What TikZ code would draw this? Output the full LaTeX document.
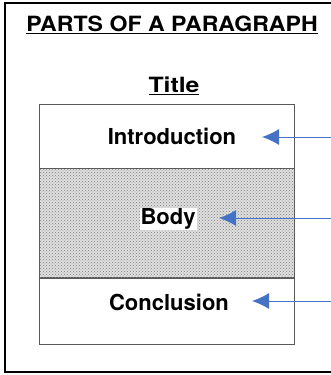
\documentclass[tikz,border=0pt]{standalone}
\usepackage{fontspec}
\setmainfont{TeX Gyre Heros}
\newfontfamily\headfont[FakeStretch=1.1]{TeX Gyre Heros}
\newfontfamily\titlefont[FakeStretch=1.18]{TeX Gyre Heros}
\usetikzlibrary{positioning,patterns,arrows.meta}

\begin{document}
\begin{tikzpicture}[x=1pt,y=-1pt]
    \tikzstyle{part}=[draw=gray!70!black, line width=0.8pt, minimum width=255pt, inner sep=0pt]
    \tikzstyle{label}=[font=\bfseries\fontsize{22}{26}\selectfont, inner sep=1pt]
    \tikzstyle{pointer}=[draw={rgb,255:red,68;green,114;blue,196}, line width=1pt, -{Latex[length=17pt,width=16pt]}]
    \useasboundingbox (0,0) rectangle (331,375);
    \clip (0,0) rectangle (331,375);
    \draw [line width=2pt] (5,3) rectangle (345,372);

    \node (Head) at (172,25) {\headfont\bfseries\fontsize{21}{24}\selectfont\underline{PARTS OF A PARAGRAPH}};
    \node (Title) at (174,86) {\titlefont\bfseries\fontsize{21}{24}\selectfont\underline{Title}};

    \node (Intro) [part, minimum height=64pt] at (166.5,136) {};
    \node (Body) [part, minimum height=109pt, below=0pt of Intro, fill=gray!25, postaction={pattern=crosshatch dots, pattern color=gray}] {};
    \node (Concl) [part, minimum height=66pt, below=0pt of Body] {};

    \node (IntroText) at (172,136) [label] {Introduction};
    \node (BodyText) at (168,219) [label, fill=white] {Body};
    \node (ConclText) at (169,302) [label] {Conclusion};

    \coordinate (IntroFrom) at (335,137);
    \coordinate (IntroTo) at (262,137);
    \coordinate (BodyFrom) at (335,218);
    \coordinate (BodyTo) at (219,218);
    \coordinate (ConclFrom) at (335,301);
    \coordinate (ConclTo) at (252,301);
    \draw [pointer] (IntroFrom) -- (IntroTo);
    \draw [pointer] (BodyFrom) -- (BodyTo);
    \draw [pointer] (ConclFrom) -- (ConclTo);
\end{tikzpicture}
\end{document}
